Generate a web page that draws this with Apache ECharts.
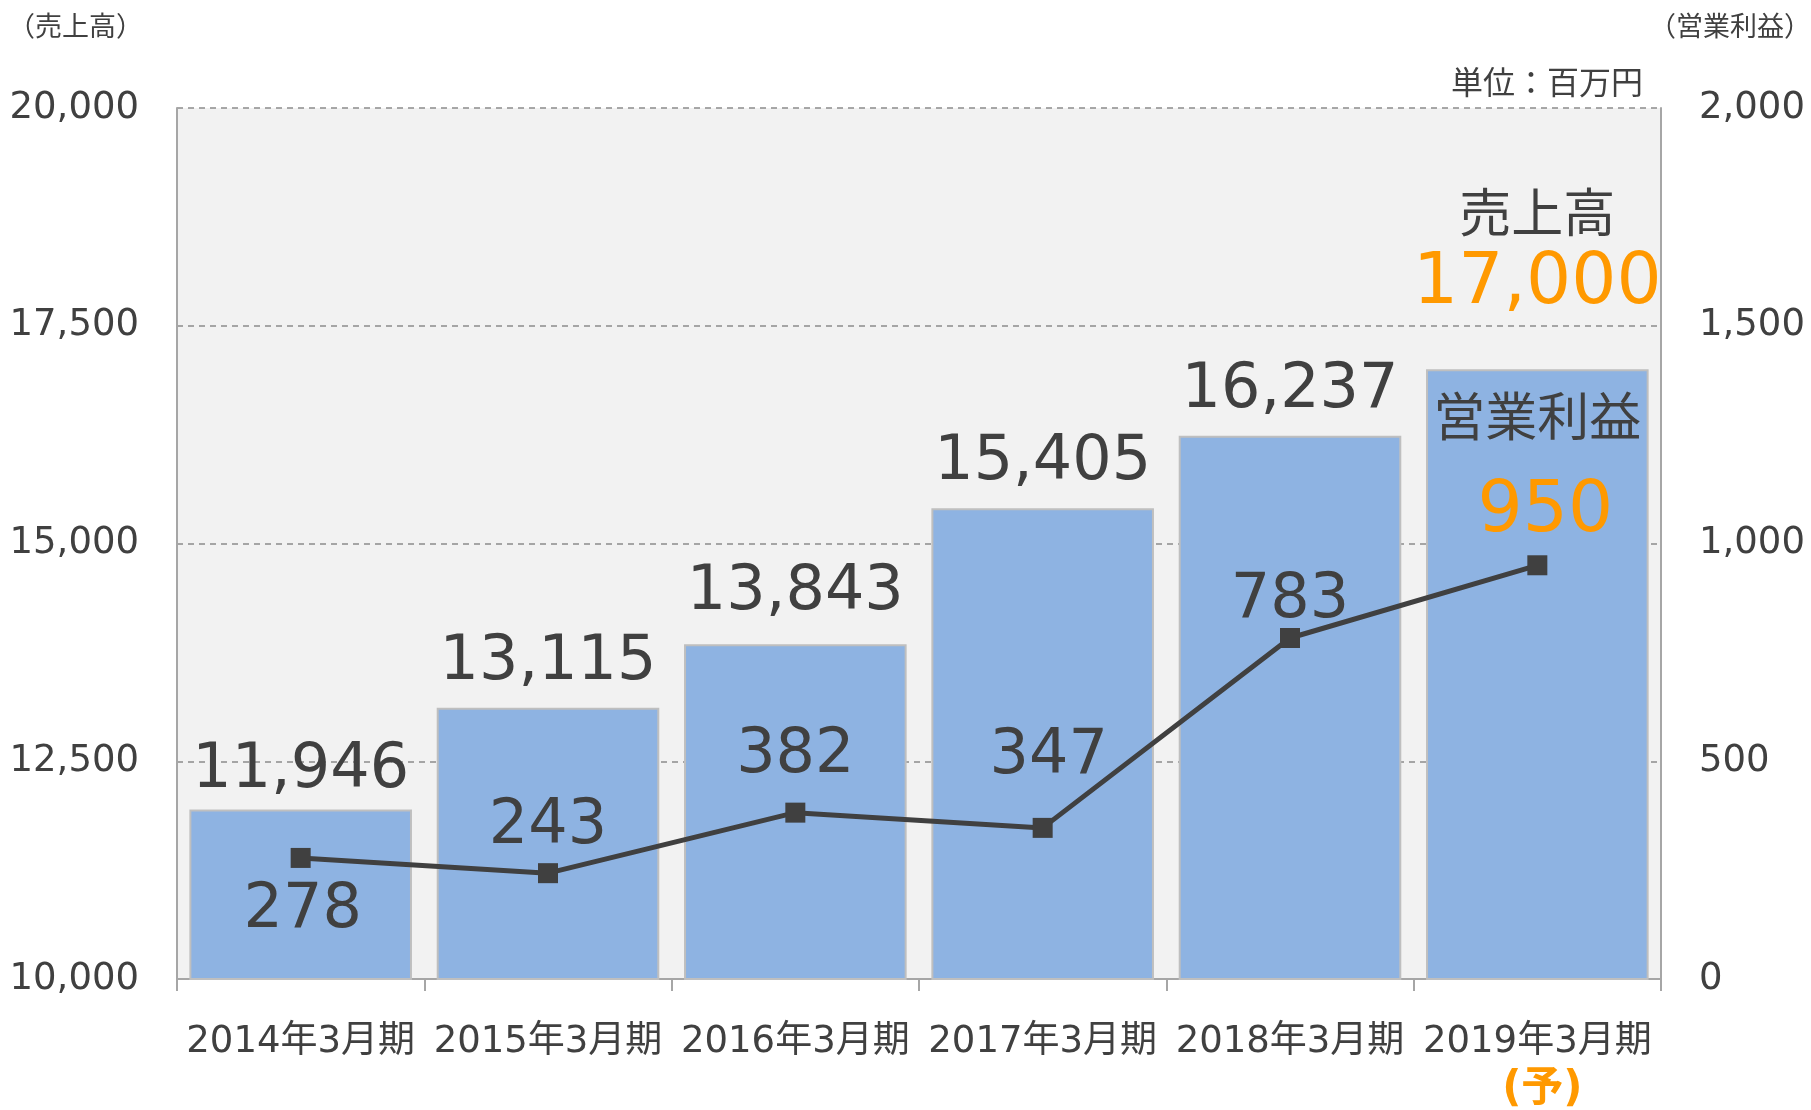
<!DOCTYPE html>
<html><head><meta charset="utf-8">
<script src="https://cdn.jsdelivr.net/npm/echarts@6/dist/echarts.min.js"></script>
<style>html,body{margin:0;padding:0;background:#fff}#c{width:1811px;height:1110px}</style>
</head><body><div id="c"></div>
<script>
const categories = ['2014年3月期','2015年3月期','2016年3月期','2017年3月期','2018年3月期','2019年3月期'];
const salesValues = [11946, 13115, 13843, 15405, 16237, 17000];
const profitValues = [278, 243, 382, 347, 783, 950];
const forecastIndex = 5;
const forecastMark = '(予)';
const salesName = '売上高';
const profitName = '営業利益';
const leftAxisName = '（売上高）';
const rightAxisName = '（営業利益）';
const unitText = '単位：百万円';

// label styling (not data)
const profitLabelPos = ['bottom','top','top','top','top','top'];
const profitLabelDist = [12, 5, 16, 30, -4, 8];
const profitLabelOffset = [[2,0],[0,0],[0,0],[6,0],[0,0],[0,0]];
const salesLabelDist = [8, 14, 20, 14, 14, 50];

const FONT = '"DejaVu Sans","Noto Sans CJK JP",sans-serif';
const TXT = '#404040';
const ORANGE = '#FF9900';
const fmt = v => v.toLocaleString('en-US');

const barData = salesValues.map((v, i) => i === forecastIndex ? {
  value: v,
  label: {
    distance: salesLabelDist[i],
    formatter: '{t|' + salesName + '}\n{v|' + fmt(v) + '}',
    rich: {
      t: {fontSize: 52, lineHeight: 62, color: TXT, fontFamily: FONT},
      v: {fontSize: 71, lineHeight: 70, color: ORANGE, fontFamily: FONT}
    }
  }
} : {value: v, label: {distance: salesLabelDist[i]}});

const lineData = profitValues.map((v, i) => {
  const lab = {position: profitLabelPos[i], distance: profitLabelDist[i], offset: profitLabelOffset[i]};
  if (i === forecastIndex) {
    lab.formatter = '{a|' + profitName + '}\n{b|' + fmt(v) + '}';
    lab.offset = [8, 0];
    lab.rich = {
      a: {fontSize: 52, lineHeight: 110, color: TXT, fontFamily: FONT, padding: [0, 16, 0, 0]},
      b: {fontSize: 71, lineHeight: 70, color: ORANGE, fontFamily: FONT}
    };
  }
  return {value: v, label: lab};
});

const chart = echarts.init(document.getElementById('c'));
chart.setOption({
  animation: false,
  backgroundColor: '#ffffff',
  textStyle: {fontFamily: FONT},
  grid: {left: 177, right: 150, top: 108, bottom: 131, show: true, backgroundColor: '#F2F2F2', borderWidth: 0, containLabel: false, outerBoundsMode: 'none'},
  graphic: [
    {type: 'text', left: 8, top: 15, style: {text: leftAxisName, font: '27px ' + FONT, fill: TXT}},
    {type: 'text', right: 0, top: 15, style: {text: rightAxisName, font: '27px ' + FONT, fill: TXT}},
    {type: 'text', right: 168, top: 70, style: {text: unitText, font: '32px ' + FONT, fill: TXT}}
  ],
  xAxis: {
    type: 'category',
    data: categories,
    axisLine: {show: true, lineStyle: {color: '#A6A6A6', width: 2}},
    axisTick: {show: true, length: 12, lineStyle: {color: '#A6A6A6', width: 2}},
    axisLabel: {
      interval: 0,
      margin: 40,
      color: TXT,
      fontSize: 37,
      fontFamily: FONT,
      lineHeight: 46,
      formatter: (v, i) => i === forecastIndex ? v + '\n{o|' + forecastMark + '}' : v,
      rich: {o: {color: ORANGE, fontSize: 42, fontWeight: 'bold', lineHeight: 50, fontFamily: FONT, padding: [0, 0, 0, 10]}}
    }
  },
  yAxis: [
    {
      type: 'value', min: 10000, max: 20000, interval: 2500,
      axisLine: {show: true, lineStyle: {color: '#A6A6A6', width: 2}},
      axisTick: {show: false},
      axisLabel: {color: TXT, fontSize: 37, fontFamily: FONT, margin: 38, padding: [12, 0, 0, 0], formatter: v => fmt(v)},
      splitLine: {show: true, lineStyle: {color: '#8C8C8C', type: [6, 5], width: 1.5}}
    },
    {
      type: 'value', min: 0, max: 2000, interval: 500,
      axisLine: {show: true, lineStyle: {color: '#A6A6A6', width: 2}},
      axisTick: {show: false},
      axisLabel: {color: TXT, fontSize: 37, fontFamily: FONT, margin: 38, padding: [12, 0, 0, 0], formatter: v => fmt(v)},
      splitLine: {show: false}
    }
  ],
  series: [
    {
      name: salesName, type: 'bar', yAxisIndex: 0,
      data: barData,
      barCategoryGap: '10%',
      itemStyle: {color: '#8EB3E2', borderColor: '#BFBFBF', borderWidth: 2},
      label: {show: true, position: 'top', color: TXT, fontSize: 62, fontFamily: FONT, formatter: p => fmt(p.value)},
      z: 2
    },
    {
      name: profitName, type: 'line', yAxisIndex: 1,
      data: lineData,
      symbol: 'rect', symbolSize: 20,
      lineStyle: {color: '#404040', width: 5},
      itemStyle: {color: '#404040'},
      label: {show: true, color: TXT, fontSize: 62, fontFamily: FONT, formatter: p => fmt(p.value)},
      z: 3
    }
  ]
});
</script></body></html>
